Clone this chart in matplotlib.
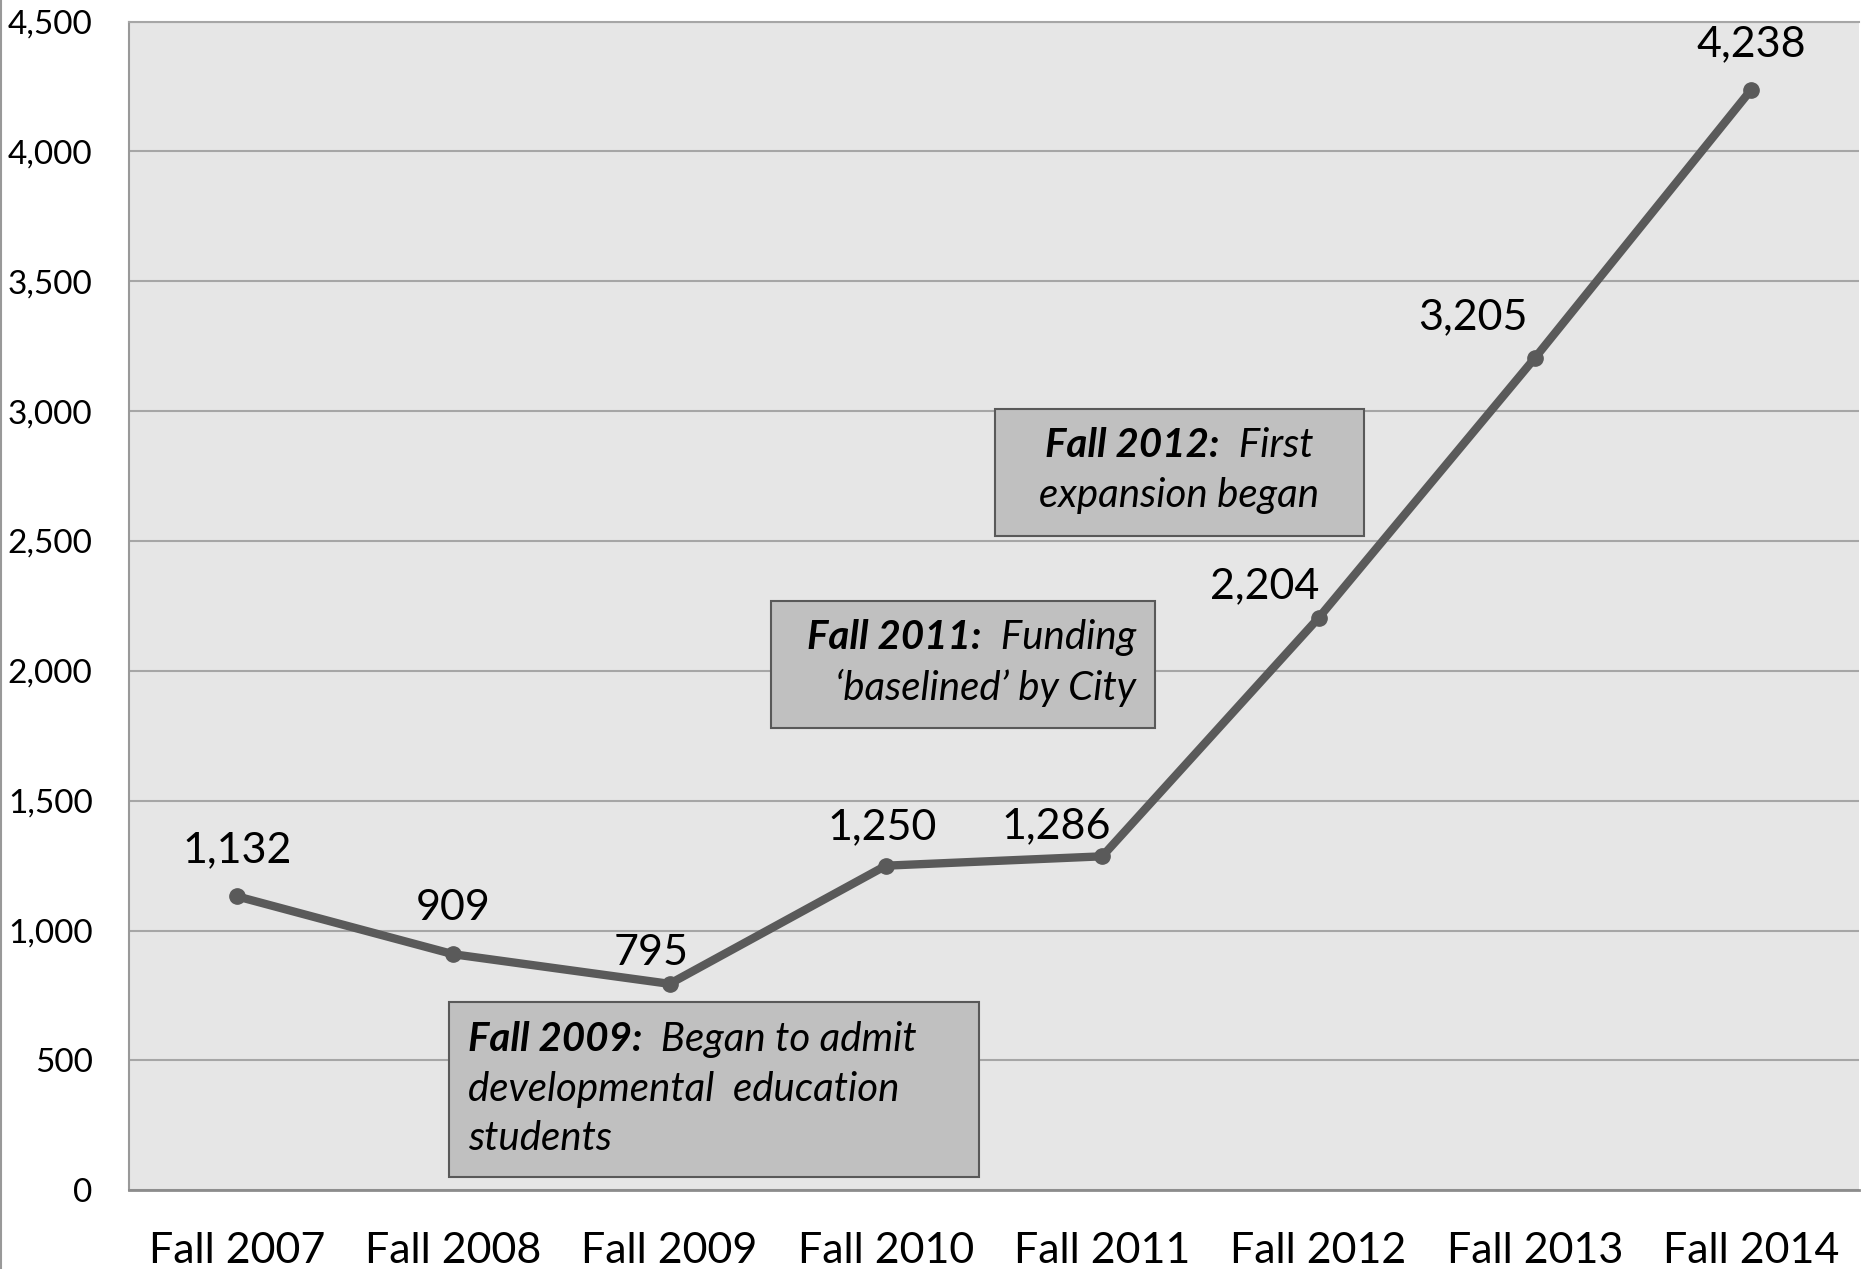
import matplotlib
matplotlib.use("Agg")
import matplotlib.pyplot as plt
from matplotlib.patches import Rectangle
from matplotlib.lines import Line2D
from matplotlib.offsetbox import TextArea, HPacker, VPacker, AnnotationBbox

plt.rcParams['font.family'] = ['Lato', 'DejaVu Sans']

# data
terms = ["Fall 2007", "Fall 2008", "Fall 2009", "Fall 2010",
         "Fall 2011", "Fall 2012", "Fall 2013", "Fall 2014"]
enrollment = [1132, 909, 795, 1250, 1286, 2204, 3205, 4238]

# where each value label sits relative to its point (points)
label_dx = [0, 0, -13, -3, -33, -39, -45, 0]
label_dy = [33, 33, 22, 28, 22, 23, 29, 33]

fig = plt.figure(figsize=(18.63, 12.69), dpi=100)
ax = fig.add_axes([0.0691, 0.062, 0.929, 0.921])
ax.set_facecolor("#e6e6e6")

x = list(range(len(terms)))
ax.plot(x, enrollment, color="#5a5a5a", lw=6, marker="o", ms=11,
        solid_capstyle="round", zorder=3)

for i, v in enumerate(enrollment):
    ax.annotate(f"{v:,}", (x[i], v), xytext=(label_dx[i], label_dy[i]),
                textcoords="offset points", ha="center", va="center",
                fontsize=31, color="black", zorder=4)

ax.set_xlim(-0.5, len(terms) - 0.5)
ax.set_ylim(0, 4500)
ax.set_yticks(range(0, 4501, 500))
ax.set_yticklabels([f"{t:,}" for t in range(0, 4501, 500)])
ax.set_xticks(x)
ax.set_xticklabels(terms)
ax.tick_params(axis="y", length=0, pad=26, labelsize=24)
ax.tick_params(axis="x", length=0, pad=30, labelsize=31)
ax.yaxis.grid(True, color="#a6a6a6", lw=1.5)
ax.set_axisbelow(True)
ax.spines["right"].set_visible(False)
ax.spines["top"].set_color("#a6a6a6")
ax.spines["top"].set_linewidth(1.5)
ax.spines["left"].set_color("#999999")
ax.spines["left"].set_linewidth(1.5)
ax.spines["bottom"].set_color("#8c8c8c")
ax.spines["bottom"].set_linewidth(2)

# left border of the chart
fig.add_artist(Line2D([0.0008, 0.0008], [0, 1], color="#999999", lw=1.5))


def note_box(rect, lines, anchor, align, box_align):
    x0, y0, x1, y1 = rect
    ax.add_patch(Rectangle((x0, y0), x1 - x0, y1 - y0, transform=ax.transAxes,
                           facecolor="#c0c0c0", edgecolor="#595959", lw=1.5,
                           zorder=5))
    rows = []
    for bold, rest in lines:
        parts = []
        if bold:
            parts.append(TextArea(bold, textprops=dict(fontsize=29, fontweight="bold",
                                                       fontstyle="italic", color="black")))
        parts.append(TextArea(rest, textprops=dict(fontsize=29, fontstyle="italic",
                                                   color="black")))
        rows.append(HPacker(children=parts, pad=0, sep=0, align="baseline"))
    pack = VPacker(children=rows, pad=0, sep=9, align=align)
    ab = AnnotationBbox(pack, anchor, xycoords="axes fraction",
                        box_alignment=box_align, frameon=False, zorder=6)
    ax.add_artist(ab)


note_box((0.1853, 0.0112, 0.491, 0.161),
         [("Fall 2009:", "  Began to admit"), ("", "developmental  education"),
          ("", "students")],
         (0.196, 0.0866), "left", (0, 0.5))
note_box((0.371, 0.3955, 0.593, 0.5046),
         [("Fall 2011:", "  Funding"), ("", "\u2018baselined\u2019 by City")],
         (0.582, 0.451), "right", (1, 0.5))
note_box((0.5007, 0.5596, 0.7135, 0.6687),
         [("Fall 2012:", "  First"), ("", "expansion began")],
         (0.607, 0.616), "center", (0.5, 0.5))

fig.savefig("out.png", dpi=100)
